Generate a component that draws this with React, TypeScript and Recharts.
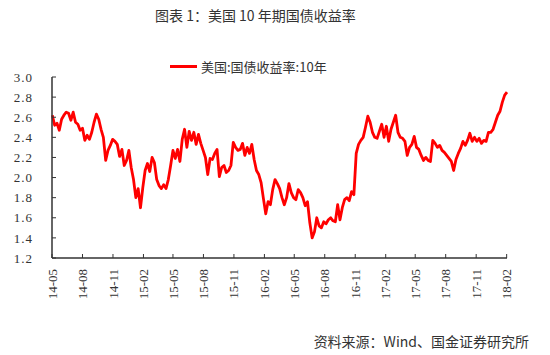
import React from 'react';
import { LineChart, Line, XAxis, YAxis, Legend } from 'recharts';

// weekly closes, first week ending 2014-05-02
const firstWeek = '2014-05-02';
const seriesName = '美国:国债收益率:10年';

const tickLabels = [
  '14-05', '14-08', '14-11', '15-02', '15-05', '15-08', '15-11', '16-02',
  '16-05', '16-08', '16-11', '17-02', '17-05', '17-08', '17-11', '18-02',
];

const yTicks = [1.2, 1.4, 1.6, 1.8, 2.0, 2.2, 2.4, 2.6, 2.8, 3.0];

const yields = [
  2.62, 2.52, 2.54, 2.47, 2.58, 2.62, 2.65, 2.64, 2.57, 2.65,
  2.55, 2.53, 2.47, 2.49, 2.37, 2.42, 2.38, 2.45, 2.55, 2.63,
  2.58, 2.48, 2.40, 2.17, 2.27, 2.32, 2.38, 2.36, 2.33, 2.21,
  2.28, 2.12, 2.17, 2.27, 2.10, 1.98, 1.80, 1.89, 1.70, 1.90,
  2.07, 2.14, 2.06, 2.20, 2.15, 1.98, 1.92, 1.89, 1.93, 1.89,
  1.98, 2.12, 2.27, 2.19, 2.28, 2.16, 2.38, 2.48, 2.30, 2.46,
  2.37, 2.45, 2.33, 2.43, 2.34, 2.27, 2.20, 2.03, 2.19, 2.18,
  2.24, 2.28, 2.01, 2.10, 2.12, 2.05, 2.07, 2.12, 2.35, 2.30,
  2.27, 2.28, 2.34, 2.22, 2.30, 2.24, 2.33, 2.18, 2.07, 2.03,
  1.95, 1.79, 1.64, 1.76, 1.73, 1.88, 1.98, 1.94, 1.89, 1.80,
  1.73, 1.80, 1.94, 1.85, 1.80, 1.78, 1.88, 1.85, 1.80, 1.72,
  1.76, 1.55, 1.40, 1.46, 1.60, 1.52, 1.50, 1.56, 1.54, 1.58,
  1.60, 1.57, 1.56, 1.73, 1.58, 1.70, 1.78, 1.80, 1.77, 1.86,
  1.83, 2.24, 2.33, 2.37, 2.40, 2.50, 2.61, 2.55, 2.45, 2.40,
  2.39, 2.46, 2.53, 2.40, 2.51, 2.36, 2.48, 2.55, 2.62, 2.45,
  2.40, 2.39, 2.36, 2.22, 2.30, 2.33, 2.41, 2.30, 2.28, 2.22,
  2.17, 2.20, 2.17, 2.16, 2.37, 2.34, 2.30, 2.32, 2.27, 2.25,
  2.22, 2.19, 2.16, 2.07, 2.18, 2.24, 2.29, 2.36, 2.32, 2.37,
  2.44, 2.36, 2.40, 2.36, 2.39, 2.34, 2.37, 2.36, 2.45, 2.45,
  2.48, 2.55, 2.62, 2.66, 2.75, 2.82, 2.85,
];

const DAY = 86400000;
const t0 = Date.parse(firstWeek + 'T00:00:00Z');
const data = yields.map((v, i) => ({ t: t0 + i * 7 * DAY, v }));

const labelToTime = (s: string) =>
  Date.UTC(2000 + Number(s.slice(0, 2)), Number(s.slice(3, 5)) - 1, 1);
const xTicks = tickLabels.map(labelToTime);
const timeToLabel: Record<number, string> = {};
tickLabels.forEach((s, i) => (timeToLabel[xTicks[i]] = s));

const textColor = '#333';
const numFont = '"Liberation Serif", "DejaVu Serif", serif';
const cjkFont = '"Noto Sans CJK SC", sans-serif';

const XTick = (props: any) => {
  const { x, y, payload } = props;
  return (
    <g transform={`translate(${x},${y})`}>
      <text
        transform="rotate(-90)"
        textAnchor="end"
        dy="0.35em"
        fill={textColor}
        fontSize={13}
        fontFamily={numFont}
      >
        {timeToLabel[payload.value]}
      </text>
    </g>
  );
};

const LegendBox = () => (
  <div style={{ display: 'flex', alignItems: 'center', fontFamily: cjkFont, fontSize: 13, color: textColor }}>
    <span style={{ display: 'inline-block', width: 27, height: 3, background: '#ff0000', marginRight: 4 }} />
    <span>{seriesName}</span>
  </div>
);

export default function App() {
  return (
    <div style={{ position: 'absolute', left: 0, top: 0, width: 550, height: 355, background: '#fff' }}>
      <div
        style={{
          position: 'absolute', left: 155, top: 5, fontSize: 14,
          fontFamily: cjkFont, color: textColor, whiteSpace: 'nowrap',
        }}
      >
        图表 1：美国 10 年期国债收益率
      </div>

      <LineChart width={550} height={355} data={data} margin={{ top: 58, right: 43, bottom: 57, left: 8 }}>
        <XAxis
          dataKey="t"
          type="number"
          scale="time"
          domain={[xTicks[0], data[data.length - 1].t]}
          ticks={xTicks}
          interval={0}
          height={40}
          tickSize={-4}
          tickMargin={15}
          tick={<XTick />}
          axisLine={{ stroke: textColor, strokeWidth: 1.5 }}
          tickLine={{ stroke: textColor }}
        />
        <YAxis
          domain={[1.2, 3.0]}
          ticks={yTicks}
          interval={0}
          width={44}
          tickSize={-4}
          tickMargin={23}
          tickFormatter={(v: number) => v.toFixed(1)}
          tick={{ fill: textColor, fontSize: 13, fontFamily: numFont, letterSpacing: 1 }}
          axisLine={{ stroke: textColor, strokeWidth: 1.5 }}
          tickLine={{ stroke: textColor }}
        />
        <Legend
          verticalAlign="top"
          content={<LegendBox />}
          wrapperStyle={{ position: 'absolute', left: 170, top: 57, width: 'auto' }}
        />
        <Line
          type="linear"
          dataKey="v"
          name={seriesName}
          stroke="#ff0000"
          strokeWidth={2.8}
          strokeLinejoin="round"
          dot={false}
          isAnimationActive={false}
        />
      </LineChart>

      <div
        style={{
          position: 'absolute', right: 21, top: 331, fontSize: 14,
          fontFamily: cjkFont, color: textColor, whiteSpace: 'nowrap',
        }}
      >
        资料来源：Wind、国金证券研究所
      </div>
    </div>
  );
}
